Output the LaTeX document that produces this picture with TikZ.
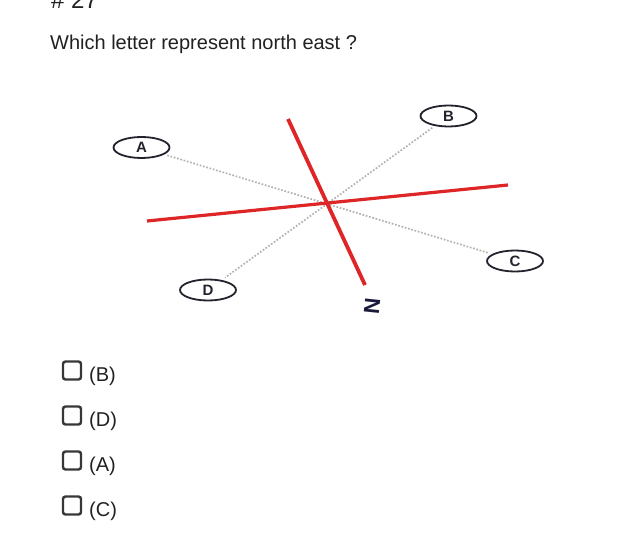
\documentclass[tikz,border=0pt]{standalone}
\usepackage{fontspec}
\setmainfont{Liberation Sans}
\setsansfont{Liberation Sans}
\definecolor{txt}{RGB}{33,33,33}
\definecolor{compred}{RGB}{222,38,38}
\definecolor{dotgrey}{RGB}{178,178,178}
\definecolor{ringc}{RGB}{35,35,45}
\definecolor{nnavy}{RGB}{25,25,60}
\begin{document}
\begin{tikzpicture}[x=1pt,y=-1pt,
  letterring/.style={draw=ringc,line width=1.8pt,ellipse,minimum width=56pt,minimum height=21pt,inner sep=0pt,font=\fontsize{15}{15}\selectfont\bfseries,text=ringc},
  redline/.style={draw=compred,line width=3.2pt},
  guide/.style={draw=dotgrey,line width=1.7pt,dash pattern=on 1.7pt off 1.7pt},
  optbox/.style={draw=txt!90,line width=2.4pt,rounded corners=2.5pt,minimum width=18pt,minimum height=18pt,inner sep=0pt},
  opttext/.style={anchor=base west,inner sep=0pt,font=\fontsize{20}{20}\selectfont,text=txt},
]
\useasboundingbox (0,0) rectangle (626,556);
\usetikzlibrary{shapes.geometric}
\node[anchor=base west,inner sep=0pt,font=\fontsize{24}{24}\selectfont,text=txt] (num) at (51,9) {\# 27};
\node[anchor=base west,inner sep=0pt,font=\fontsize{20}{20}\selectfont,text=txt] (q) at (50,50) {Which letter represent north east ?};

% compass
\coordinate (n1) at (288,119);
\coordinate (n2) at (365,285);
\coordinate (h1) at (147,221);
\coordinate (h2) at (508,185);
\node[letterring] (A) at (141.5,147.5) {A};
\node[letterring] (B) at (448.5,116) {B};
\node[letterring] (C) at (515,261) {C};
\node[letterring] (D) at (208,290) {D};
\draw[guide,shorten <=3pt,shorten >=4pt] (A) -- (C);
\draw[guide,shorten <=3pt,shorten >=4pt] (B) -- (D);
\draw[redline] (h1) -- (h2);
\draw[redline,line width=3.8pt] (n1) -- (n2);
\node[font=\fontsize{22}{22}\selectfont\bfseries,text=nnavy,rotate=-96,inner sep=0pt] (N) at (372,306) {N};

% options
\node[optbox] (b1) at (72,370.5) {};
\node[opttext] (t1) at (89,381) {(B)};
\node[optbox] (b2) at (72,415.5) {};
\node[opttext] (t2) at (89,426) {(D)};
\node[optbox] (b3) at (72,460.5) {};
\node[opttext] (t3) at (89,471) {(A)};
\node[optbox] (b4) at (72,505.5) {};
\node[opttext] (t4) at (89,516) {(C)};
\end{tikzpicture}
\end{document}
